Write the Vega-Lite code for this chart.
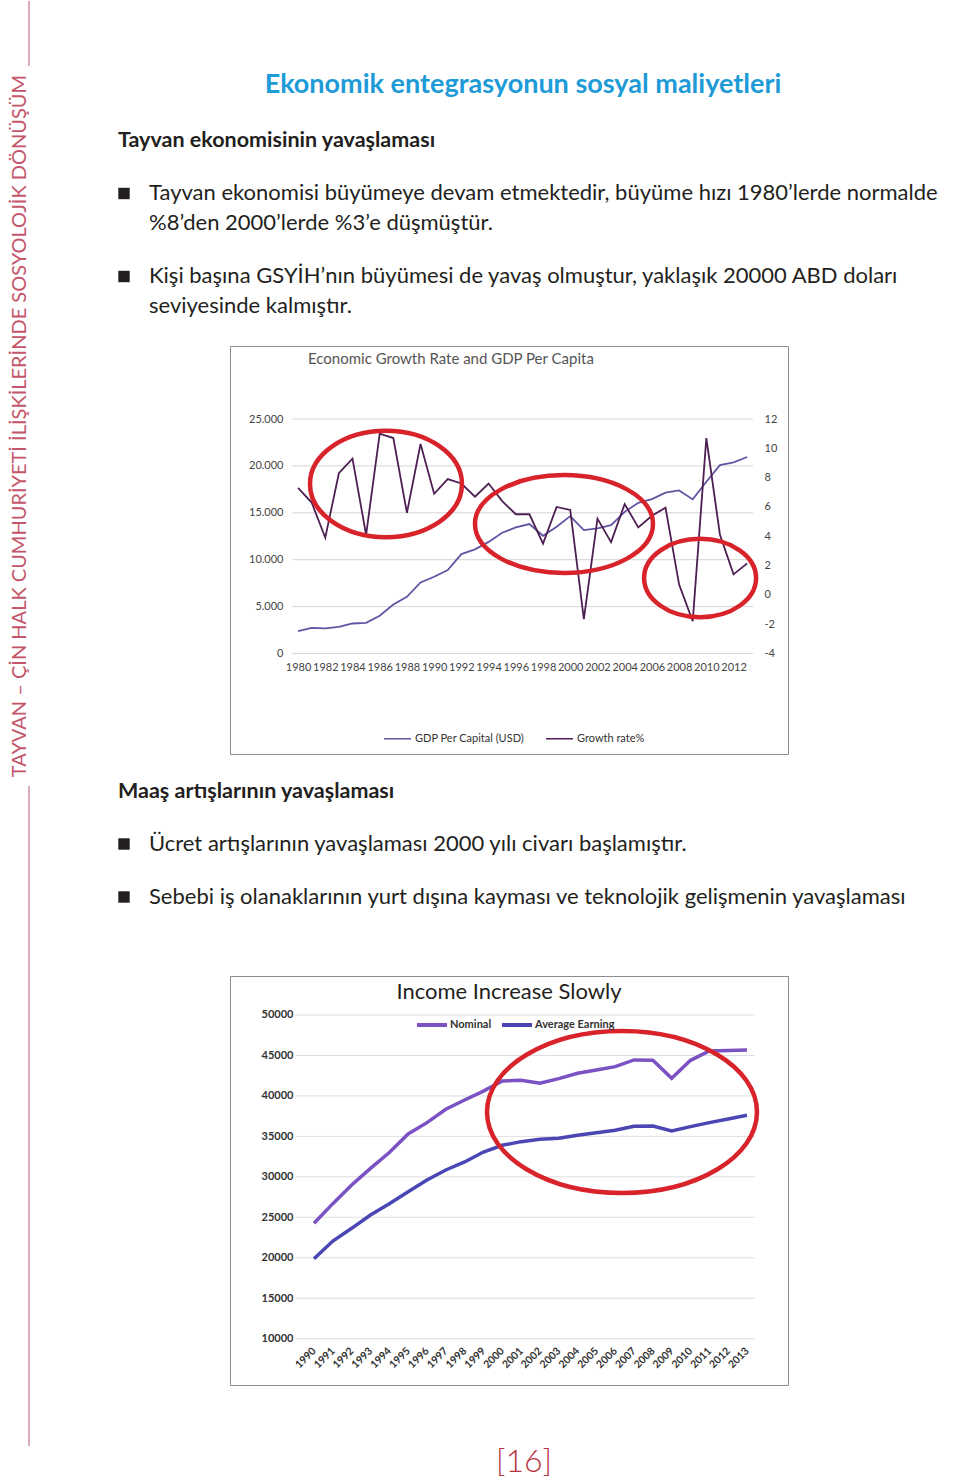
{
  "$schema": "https://vega.github.io/schema/vega-lite/v6.json",
  "padding": 0,
  "background": "#ffffff",
  "config": {"view": {"stroke": null}, "font": "Lato", "text": {"font": "Lato"}},
  "datasets": {
    "econ": [
      {"year": 1980, "gdp": 2380, "growth": 7.3},
      {"year": 1981, "gdp": 2740, "growth": 6.3},
      {"year": 1982, "gdp": 2670, "growth": 3.9},
      {"year": 1983, "gdp": 2850, "growth": 8.3},
      {"year": 1984, "gdp": 3200, "growth": 9.3},
      {"year": 1985, "gdp": 3270, "growth": 4.1},
      {"year": 1986, "gdp": 4020, "growth": 11.0},
      {"year": 1987, "gdp": 5230, "growth": 10.7},
      {"year": 1988, "gdp": 6050, "growth": 5.6},
      {"year": 1989, "gdp": 7570, "growth": 10.3},
      {"year": 1990, "gdp": 8180, "growth": 6.9},
      {"year": 1991, "gdp": 8890, "growth": 7.9},
      {"year": 1992, "gdp": 10600, "growth": 7.6},
      {"year": 1993, "gdp": 11100, "growth": 6.7},
      {"year": 1994, "gdp": 11900, "growth": 7.6},
      {"year": 1995, "gdp": 12870, "growth": 6.4},
      {"year": 1996, "gdp": 13440, "growth": 5.5},
      {"year": 1997, "gdp": 13800, "growth": 5.5},
      {"year": 1998, "gdp": 12550, "growth": 3.5},
      {"year": 1999, "gdp": 13510, "growth": 6.0},
      {"year": 2000, "gdp": 14650, "growth": 5.8},
      {"year": 2001, "gdp": 13160, "growth": -1.65},
      {"year": 2002, "gdp": 13340, "growth": 5.2},
      {"year": 2003, "gdp": 13690, "growth": 3.6},
      {"year": 2004, "gdp": 15100, "growth": 6.2},
      {"year": 2005, "gdp": 16070, "growth": 4.6},
      {"year": 2006, "gdp": 16460, "growth": 5.4},
      {"year": 2007, "gdp": 17140, "growth": 5.95},
      {"year": 2008, "gdp": 17390, "growth": 0.7},
      {"year": 2009, "gdp": 16430, "growth": -1.8},
      {"year": 2010, "gdp": 18310, "growth": 10.7},
      {"year": 2011, "gdp": 20090, "growth": 4.1},
      {"year": 2012, "gdp": 20380, "growth": 1.4},
      {"year": 2013, "gdp": 20950, "growth": 2.15}
    ],
    "income": [
      {"year": 1990, "series": "Nominal", "value": 24260},
      {"year": 1991, "series": "Nominal", "value": 26690},
      {"year": 1992, "series": "Nominal", "value": 29000},
      {"year": 1993, "series": "Nominal", "value": 31050},
      {"year": 1994, "series": "Nominal", "value": 33000},
      {"year": 1995, "series": "Nominal", "value": 35300},
      {"year": 1996, "series": "Nominal", "value": 36700},
      {"year": 1997, "series": "Nominal", "value": 38350},
      {"year": 1998, "series": "Nominal", "value": 39500},
      {"year": 1999, "series": "Nominal", "value": 40600},
      {"year": 2000, "series": "Nominal", "value": 41850},
      {"year": 2001, "series": "Nominal", "value": 41930},
      {"year": 2002, "series": "Nominal", "value": 41560},
      {"year": 2003, "series": "Nominal", "value": 42140},
      {"year": 2004, "series": "Nominal", "value": 42800},
      {"year": 2005, "series": "Nominal", "value": 43210},
      {"year": 2006, "series": "Nominal", "value": 43620},
      {"year": 2007, "series": "Nominal", "value": 44450},
      {"year": 2008, "series": "Nominal", "value": 44400},
      {"year": 2009, "series": "Nominal", "value": 42180},
      {"year": 2010, "series": "Nominal", "value": 44400},
      {"year": 2011, "series": "Nominal", "value": 45560},
      {"year": 2012, "series": "Nominal", "value": 45600},
      {"year": 2013, "series": "Nominal", "value": 45680},
      {"year": 1990, "series": "Average Earning", "value": 19890},
      {"year": 1991, "series": "Average Earning", "value": 22070},
      {"year": 1992, "series": "Average Earning", "value": 23640},
      {"year": 1993, "series": "Average Earning", "value": 25290},
      {"year": 1994, "series": "Average Earning", "value": 26690},
      {"year": 1995, "series": "Average Earning", "value": 28170},
      {"year": 1996, "series": "Average Earning", "value": 29610},
      {"year": 1997, "series": "Average Earning", "value": 30850},
      {"year": 1998, "series": "Average Earning", "value": 31840},
      {"year": 1999, "series": "Average Earning", "value": 33070},
      {"year": 2000, "series": "Average Earning", "value": 33900},
      {"year": 2001, "series": "Average Earning", "value": 34350},
      {"year": 2002, "series": "Average Earning", "value": 34640},
      {"year": 2003, "series": "Average Earning", "value": 34760},
      {"year": 2004, "series": "Average Earning", "value": 35130},
      {"year": 2005, "series": "Average Earning", "value": 35460},
      {"year": 2006, "series": "Average Earning", "value": 35750},
      {"year": 2007, "series": "Average Earning", "value": 36250},
      {"year": 2008, "series": "Average Earning", "value": 36290},
      {"year": 2009, "series": "Average Earning", "value": 35670},
      {"year": 2010, "series": "Average Earning", "value": 36210},
      {"year": 2011, "series": "Average Earning", "value": 36700},
      {"year": 2012, "series": "Average Earning", "value": 37150},
      {"year": 2013, "series": "Average Earning", "value": 37610}
    ]
  },
  "hconcat": [
    {
      "vconcat": [
        {"width": 58, "height": 65, "data": {"values": [{"k": "line"}]},
         "mark": {"type": "rule", "color": "#c97584", "strokeWidth": 1.2},
         "encoding": {"x": {"field": "k", "type": "nominal", "axis": null}}},
        {"width": 40, "height": 720,
         "data": {"values": [{"label": "TAYVAN – ÇİN HALK CUMHURİYETİ İLİŞKİLERİNDE SOSYOLOJİK DÖNÜŞÜM"}]},
         "mark": {"type": "text", "angle": 270, "fontSize": 20, "color": "#c4566b", "align": "center", "baseline": "middle"},
         "encoding": {"text": {"field": "label"}}},
        {"width": 58, "height": 660, "data": {"values": [{"k": "line"}]},
         "mark": {"type": "rule", "color": "#c97584", "strokeWidth": 1.2},
         "encoding": {"x": {"field": "k", "type": "nominal", "axis": null}}}
      ],
      "spacing": 0,
      "bounds": "flush"
    },
    {
      "vconcat": [
        {
          "width": 782, "height": 345,
          "layer": [
            {"data": {"values": [{"t": "Ekonomik entegrasyonun sosyal maliyetleri"}]},
             "mark": {"type": "text", "align": "center", "baseline": "alphabetic", "fontSize": 27, "fontWeight": "bold", "color": "#1d9bd7"},
             "encoding": {"text": {"field": "t"},
               "x": {"datum": 405, "type": "quantitative", "scale": {"domain": [0, 782], "nice": false, "zero": false}, "axis": null},
               "y": {"datum": 92, "type": "quantitative", "scale": {"domain": [0, 345], "reverse": true, "nice": false, "zero": false}, "axis": null}}},
            {"data": {"values": [{"t": "Tayvan ekonomisinin yavaşlaması"}]},
             "mark": {"type": "text", "align": "left", "baseline": "alphabetic", "fontSize": 21.5, "fontWeight": "bold", "color": "#231f20"},
             "encoding": {"text": {"field": "t"},
               "x": {"datum": 0, "type": "quantitative", "scale": {"domain": [0, 782], "nice": false, "zero": false}, "axis": null},
               "y": {"datum": 146, "type": "quantitative", "scale": {"domain": [0, 345], "reverse": true, "nice": false, "zero": false}, "axis": null}}},
            {"data": {"values": [{"bullet": 1}]},
             "mark": {"type": "point", "shape": "square", "filled": true, "size": 130, "color": "#231f20", "opacity": 1},
             "encoding": {
               "x": {"datum": 6, "type": "quantitative", "scale": {"domain": [0, 782], "nice": false, "zero": false}, "axis": null},
               "y": {"datum": 192.5, "type": "quantitative", "scale": {"domain": [0, 345], "reverse": true, "nice": false, "zero": false}, "axis": null}}},
            {"data": {"values": [{"t": "Tayvan ekonomisi büyümeye devam etmektedir, büyüme hızı 1980’lerde normalde\n%8’den 2000’lerde %3’e düşmüştür."}]},
             "mark": {"type": "text", "align": "left", "baseline": "alphabetic", "fontSize": 22, "lineBreak": "\n", "lineHeight": 30, "color": "#231f20"},
             "encoding": {"text": {"field": "t"},
               "x": {"datum": 31, "type": "quantitative", "scale": {"domain": [0, 782], "nice": false, "zero": false}, "axis": null},
               "y": {"datum": 199, "type": "quantitative", "scale": {"domain": [0, 345], "reverse": true, "nice": false, "zero": false}, "axis": null}}},
            {"data": {"values": [{"bullet": 2}]},
             "mark": {"type": "point", "shape": "square", "filled": true, "size": 130, "color": "#231f20", "opacity": 1},
             "encoding": {
               "x": {"datum": 6, "type": "quantitative", "scale": {"domain": [0, 782], "nice": false, "zero": false}, "axis": null},
               "y": {"datum": 275.5, "type": "quantitative", "scale": {"domain": [0, 345], "reverse": true, "nice": false, "zero": false}, "axis": null}}},
            {"data": {"values": [{"t": "Kişi başına GSYİH’nın büyümesi de yavaş olmuştur, yaklaşık 20000 ABD doları\nseviyesinde kalmıştır."}]},
             "mark": {"type": "text", "align": "left", "baseline": "alphabetic", "fontSize": 22, "lineBreak": "\n", "lineHeight": 30, "color": "#231f20"},
             "encoding": {"text": {"field": "t"},
               "x": {"datum": 31, "type": "quantitative", "scale": {"domain": [0, 782], "nice": false, "zero": false}, "axis": null},
               "y": {"datum": 282, "type": "quantitative", "scale": {"domain": [0, 345], "reverse": true, "nice": false, "zero": false}, "axis": null}}}
          ]
        },
        {
          "width": 558, "height": 408,
          "view": {"stroke": "#8c8c8c", "strokeWidth": 1},
          "title": {"text": "Economic Growth Rate and GDP Per Capita", "anchor": "start", "frame": "group", "dx": 78, "dy": 14, "offset": -19, "fontSize": 15, "fontWeight": "normal", "color": "#555555", "baseline": "alphabetic"},
          "layer": [
            {"data": {"values": [{"g": 0}, {"g": 5000}, {"g": 10000}, {"g": 15000}, {"g": 20000}, {"g": 25000}]},
             "mark": {"type": "rule", "color": "#d4d4d4", "strokeWidth": 1},
             "encoding": {
               "x": {"datum": 1979.6, "type": "quantitative", "scale": {"domain": [1975, 2016], "nice": false, "zero": false},
                     "axis": {"values": [1980, 1982, 1984, 1986, 1988, 1990, 1992, 1994, 1996, 1998, 2000, 2002, 2004, 2006, 2008, 2010, 2012], "format": "d", "orient": "bottom", "offset": -95, "domain": false, "ticks": false, "grid": false, "labelFontSize": 11, "labelColor": "#444444", "labelPadding": 2, "labelOverlap": false, "labelFlush": false, "labelBound": false, "title": null}},
               "x2": {"datum": 2013.43},
               "y": {"field": "g", "type": "quantitative", "scale": {"domain": [-10714, 32783], "nice": false, "zero": false}, "axis": null}}},
            {"data": {"name": "econ"},
             "mark": {"type": "line", "strokeWidth": 1.8},
             "encoding": {
               "x": {"field": "year", "type": "quantitative", "scale": {"domain": [1975, 2016], "nice": false, "zero": false},
                     "axis": {"values": [1980, 1982, 1984, 1986, 1988, 1990, 1992, 1994, 1996, 1998, 2000, 2002, 2004, 2006, 2008, 2010, 2012], "format": "d", "orient": "bottom", "offset": -95, "domain": false, "ticks": false, "grid": false, "labelFontSize": 11, "labelColor": "#444444", "labelPadding": 2, "labelOverlap": false, "labelFlush": false, "labelBound": false, "title": null}},
               "y": {"field": "gdp", "type": "quantitative", "scale": {"domain": [-10714, 32783], "nice": false, "zero": false},
                     "axis": {"orient": "left", "values": [0, 5000, 10000, 15000, 20000, 25000], "labelExpr": "datum.value === 0 ? '0' : format(datum.value / 1000, '.3f')", "offset": -57, "domain": false, "ticks": false, "grid": false, "title": null, "labelFontSize": 11, "labelColor": "#444444", "labelPadding": 4}},
               "color": {"datum": "GDP Per Capital (USD)", "type": "nominal",
                         "scale": {"domain": ["GDP Per Capital (USD)", "Growth rate%"], "range": ["#6453a3", "#4d1f52"]},
                         "legend": {"orient": "none", "legendX": 153, "legendY": 378, "direction": "horizontal", "title": null, "symbolType": "stroke", "symbolSize": 729, "symbolStrokeWidth": 1.5, "labelFontSize": 11, "labelColor": "#333333", "labelOffset": 3, "columnPadding": 18}}}},
            {"data": {"name": "econ"},
             "mark": {"type": "line", "strokeWidth": 1.8},
             "encoding": {
               "x": {"field": "year", "type": "quantitative", "scale": {"domain": [1975, 2016], "nice": false, "zero": false},
                     "axis": {"values": [1980, 1982, 1984, 1986, 1988, 1990, 1992, 1994, 1996, 1998, 2000, 2002, 2004, 2006, 2008, 2010, 2012], "format": "d", "orient": "bottom", "offset": -95, "domain": false, "ticks": false, "grid": false, "labelFontSize": 11, "labelColor": "#444444", "labelPadding": 2, "labelOverlap": false, "labelFlush": false, "labelBound": false, "title": null}},
               "y": {"field": "growth", "type": "quantitative", "scale": {"domain": [-10.857, 16.981], "nice": false, "zero": false},
                     "axis": {"orient": "right", "values": [-4, -2, 0, 2, 4, 6, 8, 10, 12], "labelExpr": "'' + datum.value", "offset": -28, "domain": false, "ticks": false, "grid": false, "title": null, "labelFontSize": 11, "labelColor": "#444444", "labelPadding": 4}},
               "color": {"datum": "Growth rate%", "type": "nominal"}}},
            {"data": {"values": [{"year": 1986.46, "gdp": 18071}]},
             "mark": {"type": "point", "shape": "M 1 0 C 1 0.3866 0.5523 0.7 0 0.7 C -0.5523 0.7 -1 0.3866 -1 0 C -1 -0.3866 -0.5523 -0.7 0 -0.7 C 0.5523 -0.7 1 -0.3866 1 0 Z", "size": 23104, "filled": false, "color": "#d8232a", "strokeWidth": 4.5, "opacity": 1},
             "encoding": {
               "x": {"field": "year", "type": "quantitative", "scale": {"domain": [1975, 2016], "nice": false, "zero": false},
                     "axis": {"values": [1980, 1982, 1984, 1986, 1988, 1990, 1992, 1994, 1996, 1998, 2000, 2002, 2004, 2006, 2008, 2010, 2012], "format": "d", "orient": "bottom", "offset": -95, "domain": false, "ticks": false, "grid": false, "labelFontSize": 11, "labelColor": "#444444", "labelPadding": 2, "labelOverlap": false, "labelFlush": false, "labelBound": false, "title": null}},
               "y": {"field": "gdp", "type": "quantitative", "scale": {"domain": [-10714, 32783], "nice": false, "zero": false}, "axis": null}}},
            {"data": {"values": [{"year": 1999.54, "gdp": 13806}]},
             "mark": {"type": "point", "shape": "M 1 0 C 1 0.3038 0.5523 0.55 0 0.55 C -0.5523 0.55 -1 0.3038 -1 0 C -1 -0.3038 -0.5523 -0.55 0 -0.55 C 0.5523 -0.55 1 -0.3038 1 0 Z", "size": 31684, "filled": false, "color": "#d8232a", "strokeWidth": 4.5, "opacity": 1},
             "encoding": {
               "x": {"field": "year", "type": "quantitative", "scale": {"domain": [1975, 2016], "nice": false, "zero": false},
                     "axis": {"values": [1980, 1982, 1984, 1986, 1988, 1990, 1992, 1994, 1996, 1998, 2000, 2002, 2004, 2006, 2008, 2010, 2012], "format": "d", "orient": "bottom", "offset": -95, "domain": false, "ticks": false, "grid": false, "labelFontSize": 11, "labelColor": "#444444", "labelPadding": 2, "labelOverlap": false, "labelFlush": false, "labelBound": false, "title": null}},
               "y": {"field": "gdp", "type": "quantitative", "scale": {"domain": [-10714, 32783], "nice": false, "zero": false}, "axis": null}}},
            {"data": {"values": [{"year": 2009.54, "gdp": 8049}]},
             "mark": {"type": "point", "shape": "M 1 0 C 1 0.3866 0.5523 0.7 0 0.7 C -0.5523 0.7 -1 0.3866 -1 0 C -1 -0.3866 -0.5523 -0.7 0 -0.7 C 0.5523 -0.7 1 -0.3866 1 0 Z", "size": 12544, "filled": false, "color": "#d8232a", "strokeWidth": 4.5, "opacity": 1},
             "encoding": {
               "x": {"field": "year", "type": "quantitative", "scale": {"domain": [1975, 2016], "nice": false, "zero": false},
                     "axis": {"values": [1980, 1982, 1984, 1986, 1988, 1990, 1992, 1994, 1996, 1998, 2000, 2002, 2004, 2006, 2008, 2010, 2012], "format": "d", "orient": "bottom", "offset": -95, "domain": false, "ticks": false, "grid": false, "labelFontSize": 11, "labelColor": "#444444", "labelPadding": 2, "labelOverlap": false, "labelFlush": false, "labelBound": false, "title": null}},
               "y": {"field": "gdp", "type": "quantitative", "scale": {"domain": [-10714, 32783], "nice": false, "zero": false}, "axis": null}}}
          ],
          "resolve": {"scale": {"y": "independent"}, "axis": {"y": "independent"}}
        },
        {
          "width": 782, "height": 222,
          "layer": [
            {"data": {"values": [{"t": "Maaş artışlarının yavaşlaması"}]},
             "mark": {"type": "text", "align": "left", "baseline": "alphabetic", "fontSize": 21.5, "fontWeight": "bold", "color": "#231f20"},
             "encoding": {"text": {"field": "t"},
               "x": {"datum": 0, "type": "quantitative", "scale": {"domain": [0, 782], "nice": false, "zero": false}, "axis": null},
               "y": {"datum": 44, "type": "quantitative", "scale": {"domain": [0, 222], "reverse": true, "nice": false, "zero": false}, "axis": null}}},
            {"data": {"values": [{"bullet": 3}]},
             "mark": {"type": "point", "shape": "square", "filled": true, "size": 130, "color": "#231f20", "opacity": 1},
             "encoding": {
               "x": {"datum": 6, "type": "quantitative", "scale": {"domain": [0, 782], "nice": false, "zero": false}, "axis": null},
               "y": {"datum": 90, "type": "quantitative", "scale": {"domain": [0, 222], "reverse": true, "nice": false, "zero": false}, "axis": null}}},
            {"data": {"values": [{"t": "Ücret artışlarının yavaşlaması 2000 yılı civarı başlamıştır."}]},
             "mark": {"type": "text", "align": "left", "baseline": "alphabetic", "fontSize": 22, "color": "#231f20"},
             "encoding": {"text": {"field": "t"},
               "x": {"datum": 31, "type": "quantitative", "scale": {"domain": [0, 782], "nice": false, "zero": false}, "axis": null},
               "y": {"datum": 97, "type": "quantitative", "scale": {"domain": [0, 222], "reverse": true, "nice": false, "zero": false}, "axis": null}}},
            {"data": {"values": [{"bullet": 4}]},
             "mark": {"type": "point", "shape": "square", "filled": true, "size": 130, "color": "#231f20", "opacity": 1},
             "encoding": {
               "x": {"datum": 6, "type": "quantitative", "scale": {"domain": [0, 782], "nice": false, "zero": false}, "axis": null},
               "y": {"datum": 143, "type": "quantitative", "scale": {"domain": [0, 222], "reverse": true, "nice": false, "zero": false}, "axis": null}}},
            {"data": {"values": [{"t": "Sebebi iş olanaklarının yurt dışına kayması ve teknolojik gelişmenin yavaşlaması"}]},
             "mark": {"type": "text", "align": "left", "baseline": "alphabetic", "fontSize": 22, "color": "#231f20"},
             "encoding": {"text": {"field": "t"},
               "x": {"datum": 31, "type": "quantitative", "scale": {"domain": [0, 782], "nice": false, "zero": false}, "axis": null},
               "y": {"datum": 150, "type": "quantitative", "scale": {"domain": [0, 222], "reverse": true, "nice": false, "zero": false}, "axis": null}}}
          ]
        },
        {
          "width": 558, "height": 409,
          "view": {"stroke": "#8c8c8c", "strokeWidth": 1},
          "title": {"text": "Income Increase Slowly", "anchor": "middle", "frame": "group", "dy": 20, "offset": -25, "fontSize": 22, "fontWeight": "normal", "color": "#231f20", "baseline": "alphabetic"},
          "layer": [
            {"data": {"values": [{"g": 10000}, {"g": 15000}, {"g": 20000}, {"g": 25000}, {"g": 30000}, {"g": 35000}, {"g": 40000}, {"g": 45000}, {"g": 50000}]},
             "mark": {"type": "rule", "color": "#dedede", "strokeWidth": 1},
             "encoding": {
               "x": {"datum": 1989.02, "type": "quantitative", "scale": {"domain": [1985.538, 2015.178], "nice": false, "zero": false},
                     "axis": {"values": [1990, 1991, 1992, 1993, 1994, 1995, 1996, 1997, 1998, 1999, 2000, 2001, 2002, 2003, 2004, 2005, 2006, 2007, 2008, 2009, 2010, 2011, 2012, 2013], "format": "d", "orient": "bottom", "offset": -39, "labelAngle": -45, "labelAlign": "right", "labelBaseline": "middle", "domain": false, "ticks": false, "grid": false, "labelFontSize": 10.5, "labelFontWeight": "bold", "labelColor": "#333333", "labelPadding": 3, "labelOverlap": false, "labelFlush": false, "labelBound": false, "title": null}},
               "x2": {"datum": 2013.43},
               "y": {"field": "g", "type": "quantitative", "scale": {"domain": [4279, 54819], "nice": false, "zero": false},
                     "axis": {"orient": "left", "values": [10000, 15000, 20000, 25000, 30000, 35000, 40000, 45000, 50000], "format": "d", "offset": -67, "domain": false, "ticks": false, "grid": false, "title": null, "labelFontSize": 11, "labelFontWeight": "bold", "labelColor": "#333333", "labelPadding": 4}}}},
            {"data": {"name": "income"},
             "mark": {"type": "line", "strokeWidth": 3.5},
             "encoding": {
               "x": {"field": "year", "type": "quantitative", "scale": {"domain": [1985.538, 2015.178], "nice": false, "zero": false},
                     "axis": {"values": [1990, 1991, 1992, 1993, 1994, 1995, 1996, 1997, 1998, 1999, 2000, 2001, 2002, 2003, 2004, 2005, 2006, 2007, 2008, 2009, 2010, 2011, 2012, 2013], "format": "d", "orient": "bottom", "offset": -39, "labelAngle": -45, "labelAlign": "right", "labelBaseline": "middle", "domain": false, "ticks": false, "grid": false, "labelFontSize": 10.5, "labelFontWeight": "bold", "labelColor": "#333333", "labelPadding": 3, "labelOverlap": false, "labelFlush": false, "labelBound": false, "title": null}},
               "y": {"field": "value", "type": "quantitative", "scale": {"domain": [4279, 54819], "nice": false, "zero": false},
                     "axis": {"orient": "left", "values": [10000, 15000, 20000, 25000, 30000, 35000, 40000, 45000, 50000], "format": "d", "offset": -67, "domain": false, "ticks": false, "grid": false, "title": null, "labelFontSize": 11, "labelFontWeight": "bold", "labelColor": "#333333", "labelPadding": 4}},
               "color": {"field": "series", "type": "nominal",
                         "scale": {"domain": ["Nominal", "Average Earning"], "range": ["#7b52c4", "#4a47b5"]},
                         "legend": {"orient": "none", "legendX": 185, "legendY": 32, "direction": "horizontal", "title": null, "symbolType": "stroke", "symbolSize": 900, "symbolStrokeWidth": 4, "labelFontSize": 11, "labelFontWeight": "bold", "labelColor": "#333333", "labelOffset": 1, "columnPadding": 2}}}},
            {"data": {"values": [{"year": 2006.36, "value": 38013}]},
             "mark": {"type": "point", "shape": "M 1 0 C 1 0.3314 0.5523 0.6 0 0.6 C -0.5523 0.6 -1 0.3314 -1 0 C -1 -0.3314 -0.5523 -0.6 0 -0.6 C 0.5523 -0.6 1 -0.3314 1 0 Z", "size": 72900, "filled": false, "color": "#d8232a", "strokeWidth": 4.5, "opacity": 1},
             "encoding": {
               "x": {"field": "year", "type": "quantitative", "scale": {"domain": [1985.538, 2015.178], "nice": false, "zero": false},
                     "axis": {"values": [1990, 1991, 1992, 1993, 1994, 1995, 1996, 1997, 1998, 1999, 2000, 2001, 2002, 2003, 2004, 2005, 2006, 2007, 2008, 2009, 2010, 2011, 2012, 2013], "format": "d", "orient": "bottom", "offset": -39, "labelAngle": -45, "labelAlign": "right", "labelBaseline": "middle", "domain": false, "ticks": false, "grid": false, "labelFontSize": 10.5, "labelFontWeight": "bold", "labelColor": "#333333", "labelPadding": 3, "labelOverlap": false, "labelFlush": false, "labelBound": false, "title": null}},
               "y": {"field": "value", "type": "quantitative", "scale": {"domain": [4279, 54819], "nice": false, "zero": false},
                     "axis": {"orient": "left", "values": [10000, 15000, 20000, 25000, 30000, 35000, 40000, 45000, 50000], "format": "d", "offset": -67, "domain": false, "ticks": false, "grid": false, "title": null, "labelFontSize": 11, "labelFontWeight": "bold", "labelColor": "#333333", "labelPadding": 4}}}}
          ]
        },
        {
          "width": 782, "height": 97,
          "data": {"values": [{"t": "[16]"}]},
          "mark": {"type": "text", "align": "center", "baseline": "alphabetic", "fontSize": 32, "fontWeight": 300, "color": "#b8323f"},
          "encoding": {"text": {"field": "t"},
            "x": {"datum": 406, "type": "quantitative", "scale": {"domain": [0, 782], "nice": false, "zero": false}, "axis": null},
            "y": {"datum": 87, "type": "quantitative", "scale": {"domain": [0, 97], "reverse": true, "nice": false, "zero": false}, "axis": null}}
        }
      ],
      "spacing": 0,
      "bounds": "flush",
      "center": true,
      "resolve": {"scale": {"color": "independent"}, "legend": {"color": "independent"}}
    }
  ],
  "spacing": 118,
  "bounds": "flush"
}
